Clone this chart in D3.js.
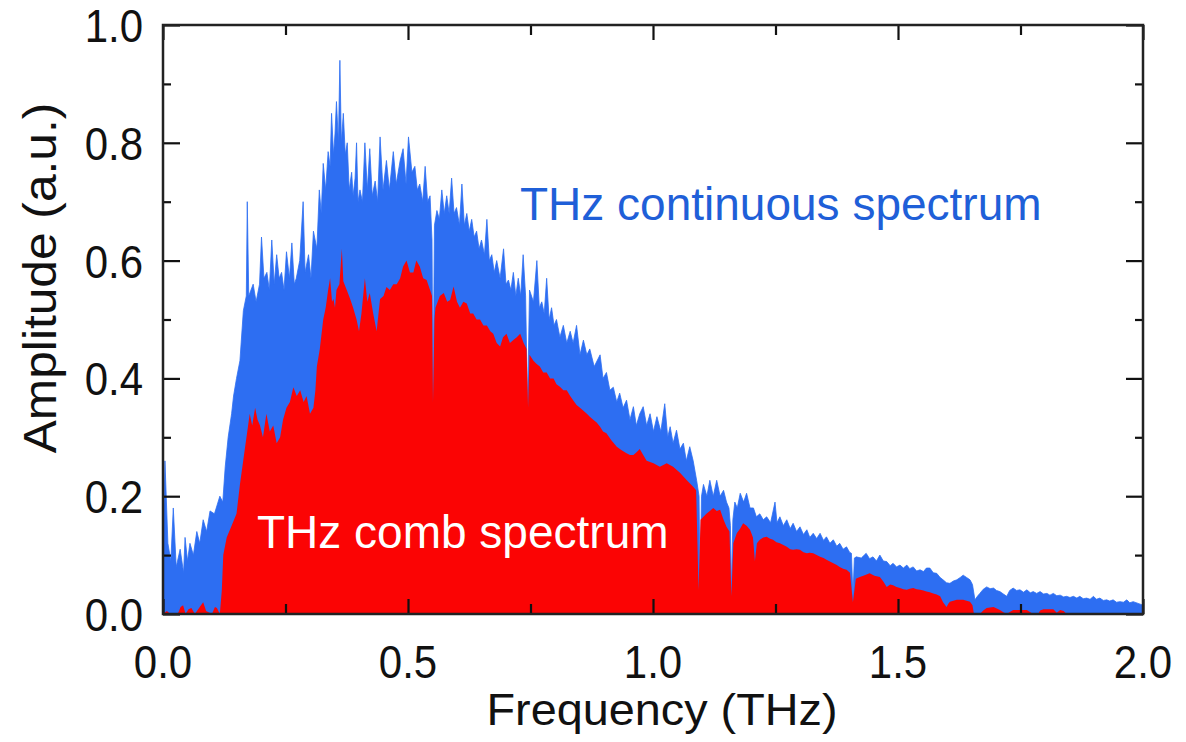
<!DOCTYPE html>
<html><head><meta charset="utf-8">
<script src="https://cdn.jsdelivr.net/npm/d3@7"></script>
<style>html,body{margin:0;padding:0;background:#fff;}svg{display:block;font-family:"Liberation Sans",Arial,sans-serif;}</style>
</head><body>
<svg id="chart" width="1186" height="742"></svg>
<script>
// ---- data ----
const xTickValues = [0, 0.5, 1.0, 1.5, 2.0];
const xTickLabels = ["0.0", "0.5", "1.0", "1.5", "2.0"];
const xMinorTicks = [0.25, 0.75, 1.25, 1.75];
const yTickValues = [0, 0.2, 0.4, 0.6, 0.8, 1.0];
const yTickLabels = ["0.0", "0.2", "0.4", "0.6", "0.8", "1.0"];
const yMinorTicks = [0.1, 0.3, 0.5, 0.7, 0.9];

const blueFreq = [0.000,0.004,0.010,0.016,0.021,0.027,0.035,0.042,0.045,0.050,0.055,0.062,0.069,0.075,0.082,0.089,0.096,0.105,0.116,0.122,0.127,0.133,0.140,0.144,0.150,0.157,0.164,0.170,0.172,0.175,0.184,0.190,0.197,0.201,0.206,0.212,0.217,0.222,0.227,0.232,0.237,0.242,0.247,0.252,0.258,0.263,0.268,0.272,0.279,0.286,0.290,0.297,0.302,0.307,0.314,0.319,0.323,0.327,0.332,0.337,0.341,0.344,0.348,0.351,0.354,0.358,0.361,0.364,0.368,0.372,0.376,0.380,0.385,0.388,0.392,0.395,0.398,0.402,0.407,0.412,0.417,0.422,0.427,0.433,0.438,0.443,0.449,0.456,0.462,0.470,0.476,0.484,0.490,0.496,0.501,0.508,0.514,0.519,0.524,0.530,0.535,0.540,0.545,0.549,0.551,0.554,0.559,0.564,0.569,0.574,0.579,0.584,0.589,0.594,0.599,0.605,0.610,0.615,0.620,0.625,0.630,0.635,0.640,0.645,0.650,0.656,0.661,0.666,0.671,0.676,0.681,0.688,0.695,0.700,0.705,0.710,0.715,0.720,0.725,0.730,0.735,0.740,0.744,0.748,0.756,0.763,0.768,0.773,0.778,0.783,0.788,0.793,0.798,0.803,0.810,0.817,0.824,0.831,0.837,0.844,0.851,0.858,0.865,0.871,0.880,0.892,0.898,0.905,0.912,0.919,0.926,0.932,0.939,0.946,0.953,0.960,0.966,0.973,0.980,0.987,0.994,1.001,1.008,1.016,1.024,1.030,1.035,1.041,1.048,1.055,1.062,1.068,1.075,1.082,1.089,1.094,1.096,1.099,1.103,1.110,1.116,1.123,1.130,1.137,1.144,1.150,1.155,1.158,1.160,1.163,1.167,1.172,1.178,1.185,1.191,1.198,1.205,1.211,1.218,1.225,1.232,1.240,1.249,1.253,1.259,1.266,1.273,1.280,1.286,1.293,1.300,1.307,1.314,1.320,1.327,1.334,1.341,1.348,1.354,1.361,1.368,1.375,1.381,1.388,1.395,1.401,1.405,1.408,1.411,1.415,1.425,1.435,1.442,1.449,1.456,1.463,1.470,1.477,1.484,1.490,1.497,1.504,1.511,1.518,1.524,1.531,1.538,1.545,1.552,1.558,1.565,1.572,1.579,1.586,1.592,1.599,1.606,1.613,1.620,1.627,1.633,1.640,1.647,1.652,1.657,1.662,1.667,1.674,1.681,1.688,1.695,1.701,1.708,1.715,1.722,1.728,1.735,1.742,1.749,1.756,1.763,1.770,1.776,1.783,1.790,1.797,1.804,1.810,1.817,1.824,1.831,1.838,1.844,1.851,1.858,1.865,1.871,1.878,1.885,1.892,1.899,1.905,1.912,1.919,1.926,1.932,1.939,1.946,1.953,1.960,1.967,1.973,1.980,1.990,2.000];
const blueAmp = [0.10,0.26,0.12,0.09,0.18,0.08,0.11,0.07,0.13,0.09,0.12,0.10,0.14,0.12,0.16,0.14,0.175,0.17,0.20,0.19,0.25,0.30,0.34,0.37,0.40,0.43,0.515,0.54,0.70,0.54,0.56,0.53,0.56,0.64,0.57,0.58,0.55,0.635,0.56,0.61,0.57,0.58,0.55,0.615,0.57,0.63,0.56,0.57,0.60,0.70,0.58,0.61,0.57,0.65,0.62,0.72,0.68,0.765,0.72,0.785,0.76,0.85,0.78,0.815,0.87,0.80,0.94,0.80,0.85,0.78,0.80,0.72,0.75,0.71,0.74,0.80,0.70,0.72,0.70,0.80,0.72,0.79,0.71,0.735,0.70,0.81,0.72,0.77,0.72,0.785,0.73,0.77,0.79,0.73,0.81,0.75,0.76,0.72,0.73,0.70,0.76,0.70,0.71,0.635,0.36,0.66,0.685,0.67,0.72,0.68,0.71,0.68,0.74,0.68,0.69,0.66,0.73,0.66,0.68,0.65,0.67,0.64,0.65,0.62,0.635,0.61,0.67,0.60,0.61,0.58,0.60,0.57,0.62,0.56,0.567,0.55,0.58,0.54,0.57,0.54,0.61,0.54,0.35,0.55,0.53,0.60,0.52,0.53,0.51,0.57,0.50,0.52,0.49,0.50,0.47,0.49,0.46,0.48,0.46,0.49,0.44,0.465,0.44,0.45,0.42,0.44,0.40,0.41,0.38,0.385,0.36,0.375,0.35,0.363,0.33,0.352,0.32,0.34,0.352,0.32,0.34,0.31,0.335,0.31,0.357,0.30,0.318,0.29,0.312,0.28,0.29,0.26,0.284,0.26,0.227,0.20,0.05,0.20,0.22,0.20,0.227,0.20,0.227,0.20,0.21,0.19,0.18,0.15,0.04,0.16,0.19,0.18,0.205,0.19,0.205,0.18,0.18,0.165,0.17,0.16,0.165,0.155,0.19,0.155,0.165,0.15,0.16,0.145,0.154,0.14,0.148,0.135,0.143,0.13,0.137,0.128,0.137,0.125,0.131,0.12,0.126,0.115,0.12,0.11,0.114,0.105,0.103,0.03,0.095,0.097,0.095,0.103,0.094,0.097,0.09,0.10,0.09,0.089,0.082,0.086,0.08,0.083,0.078,0.083,0.077,0.08,0.073,0.075,0.072,0.078,0.078,0.07,0.069,0.062,0.058,0.053,0.052,0.056,0.058,0.062,0.066,0.062,0.058,0.05,0.024,0.03,0.035,0.042,0.046,0.043,0.044,0.04,0.038,0.034,0.03,0.04,0.044,0.04,0.041,0.037,0.041,0.036,0.038,0.035,0.038,0.034,0.035,0.032,0.035,0.031,0.032,0.029,0.03,0.028,0.03,0.027,0.03,0.026,0.027,0.025,0.03,0.025,0.027,0.023,0.024,0.022,0.024,0.02,0.021,0.02,0.024,0.019,0.021,0.018,0.015];

const redFreq = [0.000,0.008,0.015,0.030,0.036,0.041,0.046,0.052,0.058,0.065,0.075,0.082,0.088,0.100,0.106,0.110,0.116,0.120,0.123,0.130,0.140,0.150,0.157,0.162,0.167,0.172,0.177,0.182,0.188,0.193,0.198,0.204,0.211,0.218,0.225,0.232,0.239,0.245,0.252,0.259,0.266,0.273,0.280,0.287,0.293,0.300,0.307,0.311,0.314,0.320,0.327,0.332,0.337,0.341,0.345,0.348,0.351,0.354,0.360,0.365,0.368,0.375,0.382,0.388,0.395,0.400,0.405,0.412,0.417,0.422,0.429,0.436,0.443,0.450,0.456,0.463,0.470,0.477,0.484,0.490,0.497,0.504,0.511,0.517,0.524,0.531,0.538,0.545,0.549,0.551,0.554,0.556,0.565,0.573,0.580,0.586,0.593,0.600,0.606,0.613,0.620,0.627,0.633,0.640,0.647,0.654,0.661,0.668,0.674,0.681,0.688,0.694,0.701,0.708,0.715,0.722,0.729,0.736,0.742,0.745,0.748,0.756,0.762,0.769,0.776,0.783,0.790,0.797,0.803,0.810,0.817,0.824,0.831,0.837,0.844,0.851,0.858,0.865,0.871,0.878,0.885,0.892,0.898,0.905,0.915,0.926,0.936,0.946,0.953,0.960,0.967,0.973,0.980,0.987,1.001,1.014,1.028,1.041,1.055,1.069,1.082,1.088,1.093,1.097,1.103,1.109,1.116,1.123,1.130,1.137,1.144,1.150,1.156,1.160,1.164,1.171,1.178,1.184,1.191,1.198,1.204,1.208,1.212,1.218,1.225,1.232,1.238,1.245,1.252,1.259,1.266,1.273,1.280,1.286,1.293,1.300,1.307,1.314,1.320,1.327,1.334,1.341,1.348,1.354,1.361,1.368,1.375,1.381,1.388,1.395,1.402,1.408,1.414,1.422,1.432,1.442,1.452,1.463,1.470,1.477,1.484,1.490,1.497,1.504,1.511,1.518,1.524,1.531,1.538,1.545,1.552,1.558,1.565,1.572,1.579,1.586,1.592,1.599,1.603,1.606,1.620,1.633,1.647,1.652,1.655,1.667,1.674,1.681,1.695,1.708,1.715,1.722,1.729,1.735,1.749,1.763,1.770,1.776,1.786,1.790,1.797,1.817,1.824,1.831,1.838,1.844,2.000];
const redAmp = [0.0,0.005,0.0,0.0,0.012,0.015,0.0,0.008,0.01,0.0,0.012,0.02,0.005,0.0,0.012,0.01,0.0,0.04,0.10,0.13,0.15,0.17,0.22,0.25,0.28,0.31,0.34,0.32,0.35,0.33,0.32,0.30,0.34,0.31,0.32,0.29,0.30,0.33,0.35,0.36,0.385,0.37,0.38,0.36,0.37,0.34,0.35,0.38,0.42,0.45,0.50,0.52,0.55,0.57,0.53,0.535,0.52,0.55,0.56,0.62,0.565,0.55,0.535,0.52,0.50,0.48,0.51,0.57,0.53,0.545,0.51,0.48,0.535,0.54,0.555,0.55,0.56,0.56,0.57,0.59,0.60,0.58,0.58,0.60,0.59,0.57,0.567,0.55,0.54,0.36,0.50,0.52,0.54,0.545,0.53,0.533,0.556,0.53,0.52,0.53,0.527,0.51,0.51,0.50,0.50,0.49,0.49,0.48,0.476,0.46,0.454,0.47,0.476,0.46,0.465,0.47,0.476,0.46,0.45,0.35,0.44,0.43,0.425,0.42,0.41,0.41,0.40,0.40,0.39,0.386,0.38,0.38,0.37,0.363,0.355,0.35,0.345,0.34,0.335,0.33,0.325,0.318,0.31,0.307,0.295,0.284,0.278,0.273,0.27,0.27,0.275,0.28,0.27,0.26,0.256,0.25,0.256,0.25,0.24,0.227,0.216,0.21,0.04,0.16,0.165,0.17,0.175,0.18,0.175,0.177,0.16,0.148,0.14,0.03,0.12,0.137,0.145,0.154,0.15,0.143,0.13,0.09,0.12,0.126,0.13,0.131,0.128,0.126,0.122,0.12,0.117,0.114,0.11,0.109,0.11,0.109,0.105,0.103,0.104,0.103,0.1,0.097,0.095,0.092,0.089,0.086,0.083,0.08,0.077,0.075,0.07,0.02,0.06,0.063,0.066,0.069,0.065,0.063,0.055,0.046,0.05,0.049,0.046,0.044,0.042,0.041,0.043,0.044,0.042,0.041,0.04,0.038,0.037,0.035,0.033,0.03,0.02,0.012,0.018,0.021,0.024,0.024,0.021,0.015,0.0,0.0,0.006,0.01,0.012,0.007,0.003,0.0,0.004,0.007,0.007,0.007,0.003,0.0,0.0,0.006,0.008,0.008,0.002,0.007,0.005,0.0,0.0];

// ---- layout ----
const svg = d3.select("#chart");
const L = 163, R = 1143, T = 25, B = 614;
const x = d3.scaleLinear().domain([0, 2]).range([L, R]);
const y = d3.scaleLinear().domain([0, 1]).range([B, T]);

const blueColor = "#2d6ef2", redColor = "#fb0404";

svg.append("clipPath").attr("id", "clip").append("rect")
  .attr("x", L).attr("y", T).attr("width", R - L).attr("height", B - T);

const blueData = blueFreq.map((f, i) => [f, blueAmp[i]]);
const redData = redFreq.map((f, i) => [f, redAmp[i]]);

const area = d3.area().x(d => x(d[0])).y0(y(0)).y1(d => y(d[1])).curve(d3.curveLinear);
const g = svg.append("g").attr("clip-path", "url(#clip)");
g.append("path").datum(blueData).attr("d", area).attr("fill", blueColor)
  .attr("stroke", blueColor).attr("stroke-width", 0.8);
g.append("path").datum(redData).attr("d", area).attr("fill", redColor);

// ---- axes (ticks pointing inward) ----
function tickAxis(axisGen, vals, size, tr) {
  const a = svg.append("g").attr("transform", tr)
    .call(axisGen.tickValues(vals).tickSize(size).tickFormat(""));
  a.select(".domain").remove();
  a.selectAll("line").attr("stroke", "#111").attr("stroke-width", 2.2);
}
tickAxis(d3.axisBottom(x), xTickValues, -15, `translate(0,${B})`);
tickAxis(d3.axisBottom(x), xMinorTicks, -10, `translate(0,${B})`);
tickAxis(d3.axisTop(x), xTickValues, -15, `translate(0,${T})`);
tickAxis(d3.axisTop(x), xMinorTicks, -10, `translate(0,${T})`);
tickAxis(d3.axisLeft(y), yTickValues, -17, `translate(${L},0)`);
tickAxis(d3.axisLeft(y), yMinorTicks, -8, `translate(${L},0)`);
tickAxis(d3.axisRight(y), yTickValues, -17, `translate(${R},0)`);
tickAxis(d3.axisRight(y), yMinorTicks, -8, `translate(${R},0)`);

svg.append("rect").attr("x", L).attr("y", T).attr("width", R - L).attr("height", B - T)
  .attr("fill", "none").attr("stroke", "#222").attr("stroke-width", 2.5);

// tick labels
svg.append("g").selectAll("text").data(xTickValues).join("text")
  .attr("transform", d => `translate(${x(d)},${678}) scale(1,1.1)`)
  .attr("text-anchor", "middle").attr("font-size", 42).attr("fill", "#111")
  .text((d, i) => xTickLabels[i]);
svg.append("g").selectAll("text").data(yTickValues).join("text")
  .attr("transform", d => `translate(${143},${y(d) + 17}) scale(1,1.1)`)
  .attr("text-anchor", "end").attr("font-size", 42).attr("fill", "#111")
  .text((d, i) => yTickLabels[i]);

// axis titles
svg.append("text").attr("transform", `translate(${(L + R) / 2 + 9},725) scale(1.04,1)`)
  .attr("text-anchor", "middle").attr("font-size", 45).attr("fill", "#111")
  .text("Frequency (THz)");
svg.append("text").attr("transform", `translate(56,${278}) rotate(-90) scale(1.08,1)`)
  .attr("text-anchor", "middle").attr("font-size", 46).attr("fill", "#111")
  .text("Amplitude (a.u.)");

// annotations
svg.append("text").attr("x", 520).attr("y", 220).attr("font-size", 46)
  .attr("fill", "#1f5fd8").text("THz continuous spectrum");
svg.append("text").attr("x", 257).attr("y", 548).attr("font-size", 46)
  .attr("fill", "#ffffff").text("THz comb spectrum");
</script>
</body></html>
